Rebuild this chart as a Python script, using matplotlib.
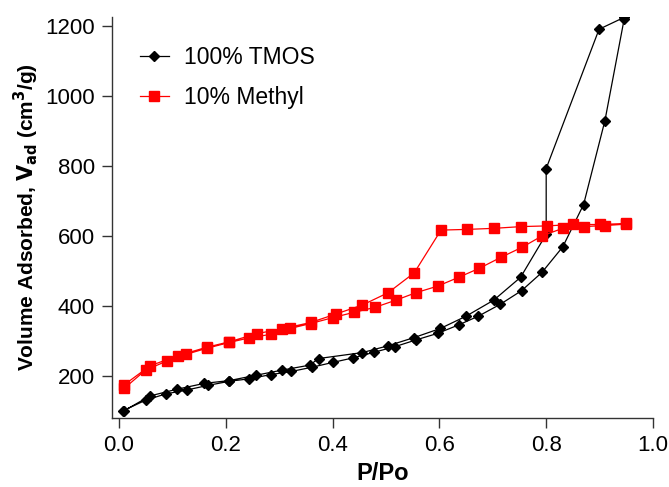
import matplotlib.pyplot as plt

plt.rcParams['font.family'] = ['Liberation Sans', 'DejaVu Sans']

# 100% TMOS isotherm (adsorption then desorption branch)
tmos_ads_p = [0.008, 0.050, 0.088, 0.127, 0.166, 0.207, 0.244, 0.284, 0.323, 0.361,
              0.401, 0.439, 0.478, 0.517, 0.556, 0.597, 0.636, 0.673, 0.714, 0.754,
              0.792, 0.831, 0.870, 0.910, 0.946]
tmos_ads_v = [101, 131, 149, 160, 173, 185, 192, 204, 213, 225,
              239, 252, 268, 284, 303, 322, 346, 371, 405, 444,
              496, 569, 690, 930, 1220]
tmos_des_p = [0.946, 0.899, 0.800, 0.800, 0.752, 0.702, 0.650, 0.602, 0.553, 0.503,
              0.456, 0.374, 0.357, 0.306, 0.256, 0.207, 0.160, 0.108, 0.058, 0.010]
tmos_des_v = [1225, 1191, 793, 605, 482, 417, 371, 336, 310, 286,
              267, 250, 231, 217, 202, 187, 179, 162, 143, 101]

# 10% Methyl isotherm
methyl_ads_p = [0.010, 0.050, 0.090, 0.126, 0.164, 0.207, 0.244, 0.284, 0.321, 0.359,
                0.401, 0.440, 0.479, 0.519, 0.556, 0.597, 0.636, 0.675, 0.715, 0.755,
                0.793, 0.831, 0.870, 0.910, 0.950]
methyl_ads_v = [165, 217, 243, 262, 279, 296, 309, 319, 336, 350,
                367, 382, 396, 417, 438, 457, 482, 508, 539, 568,
                601, 622, 627, 630, 634]
methyl_des_p = [0.950, 0.901, 0.851, 0.801, 0.753, 0.702, 0.652, 0.603, 0.553, 0.504,
                0.456, 0.406, 0.359, 0.306, 0.258, 0.207, 0.164, 0.110, 0.058, 0.010]
methyl_des_v = [636, 633, 633, 629, 627, 622, 619, 617, 495, 438,
                403, 377, 353, 335, 321, 298, 282, 258, 229, 175]

fig = plt.figure(figsize=(6.69, 4.87), dpi=100)
ax = fig.add_axes([112 / 669, 1 - 418 / 487, (653 - 112) / 669, (418 - 17) / 487])

ax.plot(tmos_ads_p + tmos_des_p, tmos_ads_v + tmos_des_v, color='black', lw=0.9,
        marker='D', ms=5.2, mfc='black', mec='black', label='100% TMOS')
ax.plot(methyl_ads_p + methyl_des_p, methyl_ads_v + methyl_des_v, color='red', lw=0.9,
        marker='s', ms=7.8, mfc='red', mec='red', label='10% Methyl')

ax.set_xlim(-0.013, 1.0)
ax.set_ylim(80, 1226)
ax.set_xticks([0.0, 0.2, 0.4, 0.6, 0.8, 1.0])
ax.set_yticks([200, 400, 600, 800, 1000, 1200])

for side in ['top', 'right']:
    ax.spines[side].set_visible(False)
for side in ['left', 'bottom']:
    ax.spines[side].set_color('#333333')
    ax.spines[side].set_linewidth(1.0)
ax.tick_params(direction='out', length=7.5, width=1, color='#333333',
               labelsize=16, pad=5)

ax.set_xlabel('P/Po', fontsize=17, fontweight='bold', labelpad=4)
ax.set_ylabel(r'Volume Adsorbed, $\mathbf{V_{ad}}$ (cm$^\mathbf{3}$/g)',
              fontsize=15, fontweight='bold', labelpad=3)

ax.legend(loc='upper left', bbox_to_anchor=(0.052, 0.9275), frameon=False,
          borderaxespad=0, borderpad=0, fontsize=16.5, handlelength=1.25,
          handletextpad=0.65, labelspacing=0.75)

fig.savefig('out.png', dpi=100)
